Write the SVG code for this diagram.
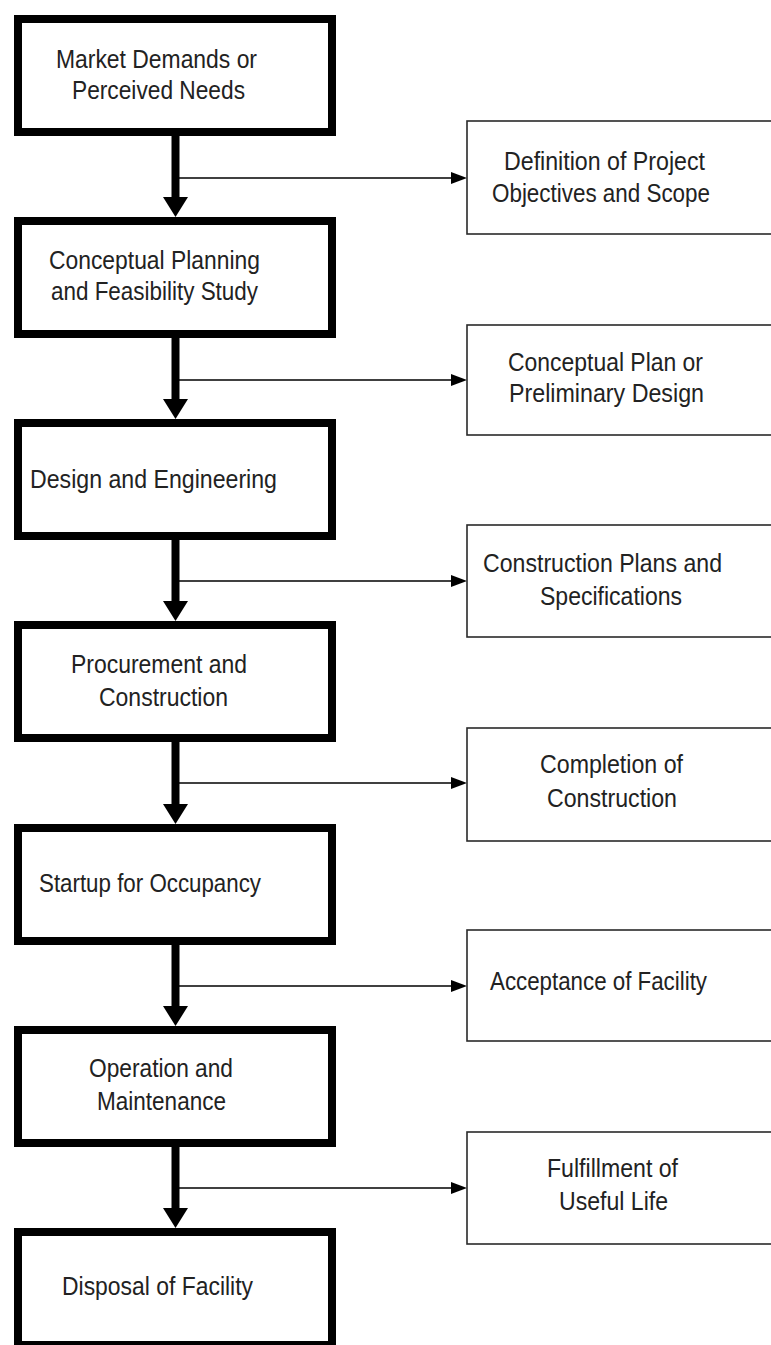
<svg xmlns="http://www.w3.org/2000/svg" width="771" height="1345" viewBox="0 0 771 1345">
<style>
.main{fill:#fff;stroke:#000;stroke-width:8}
.out{fill:#fff;stroke:#2a2a2a;stroke-width:1.6}
.t{font-family:"Liberation Sans",Arial,sans-serif;font-size:26px;fill:#222}
.big{stroke:#000;stroke-width:8;fill:none}
.thin{stroke:#000;stroke-width:1.5;fill:none}
</style>
<defs>
<marker id="bigHead" markerUnits="userSpaceOnUse" markerWidth="21" markerHeight="26" refX="0" refY="13" orient="auto" overflow="visible">
<path d="M0,0.5 L20,13 L0,25.5 Z" fill="#000"/>
</marker>
<marker id="smallHead" markerUnits="userSpaceOnUse" markerWidth="16" markerHeight="12" refX="0" refY="6" orient="auto" overflow="visible">
<path d="M0,0 L16,6 L0,12 Z" fill="#000"/>
</marker>
</defs>
<rect width="771" height="1345" fill="#fff"/>
<g id="connectors">
<line class="big" x1="175.5" y1="135" x2="175.5" y2="197" marker-end="url(#bigHead)"/>
<line class="big" x1="175.5" y1="337" x2="175.5" y2="399" marker-end="url(#bigHead)"/>
<line class="big" x1="175.5" y1="539" x2="175.5" y2="601" marker-end="url(#bigHead)"/>
<line class="big" x1="175.5" y1="742" x2="175.5" y2="804" marker-end="url(#bigHead)"/>
<line class="big" x1="175.5" y1="944" x2="175.5" y2="1006" marker-end="url(#bigHead)"/>
<line class="big" x1="175.5" y1="1146" x2="175.5" y2="1208" marker-end="url(#bigHead)"/>
<line class="thin" x1="179" y1="178" x2="451" y2="178" marker-end="url(#smallHead)"/>
<line class="thin" x1="179" y1="380" x2="451" y2="380" marker-end="url(#smallHead)"/>
<line class="thin" x1="179" y1="581" x2="451" y2="581" marker-end="url(#smallHead)"/>
<line class="thin" x1="179" y1="783" x2="451" y2="783" marker-end="url(#smallHead)"/>
<line class="thin" x1="179" y1="986" x2="451" y2="986" marker-end="url(#smallHead)"/>
<line class="thin" x1="179" y1="1188" x2="451" y2="1188" marker-end="url(#smallHead)"/>
</g>
<g id="n1"><rect class="main" x="18" y="19" width="314" height="113"/>
<text class="t" x="56" y="68" textLength="201" lengthAdjust="spacingAndGlyphs">Market Demands or</text>
<text class="t" x="72" y="99" textLength="173" lengthAdjust="spacingAndGlyphs">Perceived Needs</text></g>
<g id="n2"><rect class="main" x="18" y="221" width="314" height="113"/>
<text class="t" x="49" y="269" textLength="211" lengthAdjust="spacingAndGlyphs">Conceptual Planning</text>
<text class="t" x="51" y="300" textLength="207" lengthAdjust="spacingAndGlyphs">and Feasibility Study</text></g>
<g id="n3"><rect class="main" x="18" y="423" width="314" height="113"/>
<text class="t" x="30" y="488" textLength="247" lengthAdjust="spacingAndGlyphs">Design and Engineering</text></g>
<g id="n4"><rect class="main" x="18" y="625" width="314" height="113"/>
<text class="t" x="71" y="673" textLength="176" lengthAdjust="spacingAndGlyphs">Procurement and</text>
<text class="t" x="99" y="706" textLength="129" lengthAdjust="spacingAndGlyphs">Construction</text></g>
<g id="n5"><rect class="main" x="18" y="828" width="314" height="113"/>
<text class="t" x="39" y="892" textLength="222" lengthAdjust="spacingAndGlyphs">Startup for Occupancy</text></g>
<g id="n6"><rect class="main" x="18" y="1030" width="314" height="113"/>
<text class="t" x="89" y="1077" textLength="144" lengthAdjust="spacingAndGlyphs">Operation and</text>
<text class="t" x="97" y="1110" textLength="129" lengthAdjust="spacingAndGlyphs">Maintenance</text></g>
<g id="n7"><rect class="main" x="18" y="1232" width="314" height="113"/>
<text class="t" x="62" y="1295" textLength="191" lengthAdjust="spacingAndGlyphs">Disposal of Facility</text></g>
<g id="o1"><rect class="out" x="467" y="121" width="320" height="113"/>
<text class="t" x="504" y="170" textLength="201" lengthAdjust="spacingAndGlyphs">Definition of Project</text>
<text class="t" x="492" y="202" textLength="218" lengthAdjust="spacingAndGlyphs">Objectives and Scope</text></g>
<g id="o2"><rect class="out" x="467" y="325" width="320" height="110"/>
<text class="t" x="508" y="371" textLength="195" lengthAdjust="spacingAndGlyphs">Conceptual Plan or</text>
<text class="t" x="509" y="402" textLength="195" lengthAdjust="spacingAndGlyphs">Preliminary Design</text></g>
<g id="o3"><rect class="out" x="467" y="525" width="320" height="112"/>
<text class="t" x="483" y="572" textLength="239" lengthAdjust="spacingAndGlyphs">Construction Plans and</text>
<text class="t" x="540" y="605" textLength="142" lengthAdjust="spacingAndGlyphs">Specifications</text></g>
<g id="o4"><rect class="out" x="467" y="728" width="320" height="113"/>
<text class="t" x="540" y="773" textLength="143" lengthAdjust="spacingAndGlyphs">Completion of</text>
<text class="t" x="547" y="807" textLength="130" lengthAdjust="spacingAndGlyphs">Construction</text></g>
<g id="o5"><rect class="out" x="467" y="930" width="320" height="111"/>
<text class="t" x="490" y="990" textLength="217" lengthAdjust="spacingAndGlyphs">Acceptance of Facility</text></g>
<g id="o6"><rect class="out" x="467" y="1132" width="320" height="112"/>
<text class="t" x="547" y="1177" textLength="131" lengthAdjust="spacingAndGlyphs">Fulfillment of</text>
<text class="t" x="559" y="1210" textLength="109" lengthAdjust="spacingAndGlyphs">Useful Life</text></g>
</svg>
